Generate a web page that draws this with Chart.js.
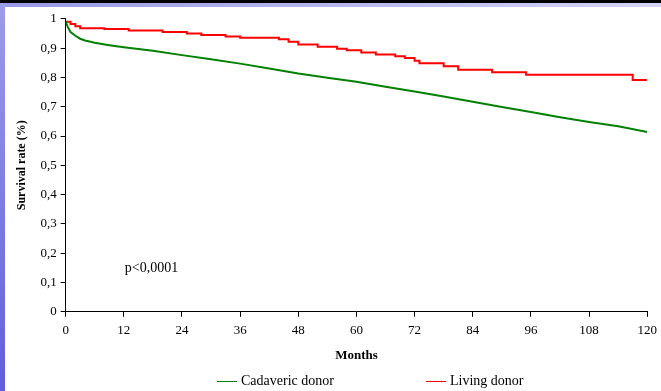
<!DOCTYPE html>
<html>
<head>
<meta charset="utf-8">
<script src="https://cdn.jsdelivr.net/npm/chart.js@4.4.1/dist/chart.umd.min.js"></script>
<style>
  html, body { margin: 0; padding: 0; background: #fff; }
  body { width: 661px; height: 391px; position: relative; overflow: hidden; }
  #topBlack { position: absolute; left: 0; top: 0; width: 661px; height: 3px; background: #000; }
  #topBand { position: absolute; left: 0; top: 3px; width: 661px; height: 4px;
    background: linear-gradient(to right, #9898e4, #d4d4f6); }
  #leftBar { position: absolute; left: 0; top: 3px; width: 5px; height: 388px;
    background: linear-gradient(to bottom, #9c9ce8, #5f5fe0); }
  #wrap { position: absolute; left: 5px; top: 7px; width: 658px; height: 384px; }
</style>
</head>
<body>
<div id="topBlack"></div>
<div id="topBand"></div>
<div id="leftBar"></div>
<div id="wrap"><canvas id="chart" width="658" height="384"></canvas></div>
<script>
// months / survival
const cadavericMonths = [0, 0.5, 1, 2, 3, 4, 6, 9, 12, 18, 24, 30, 36, 42, 48, 54, 60, 66, 72, 78, 84, 90, 96, 102, 108, 114, 120];
const cadavericSurv = [0.99, 0.97, 0.955, 0.942, 0.932, 0.926, 0.918, 0.91, 0.903, 0.891, 0.876, 0.862, 0.847, 0.83, 0.813, 0.799, 0.785, 0.768, 0.752, 0.735, 0.717, 0.699, 0.682, 0.664, 0.648, 0.633, 0.614];

const livingMonths = [0, 1, 2, 3, 8, 13, 20, 25, 28, 33, 36, 44, 46, 48, 52, 56, 58, 61, 64, 68, 70, 72, 73, 78, 81, 88, 95, 117, 120];
const livingSurv = [0.99, 0.982, 0.975, 0.968, 0.965, 0.96, 0.955, 0.95, 0.945, 0.94, 0.935, 0.93, 0.922, 0.912, 0.905, 0.898, 0.893, 0.885, 0.878, 0.872, 0.866, 0.857, 0.848, 0.838, 0.826, 0.818, 0.809, 0.791, 0.791];

const xTicks = [0, 12, 24, 36, 48, 60, 72, 84, 96, 108, 120];
const pValueText = "p<0,0001";

const serif = "'Liberation Serif', 'Times New Roman', serif";

function toPoints(xs, ys) {
  return xs.map((x, i) => ({ x: x, y: ys[i] }));
}

// legend + p value drawn by hand
const extras = {
  id: "extras",
  afterDraw(chart) {
    const ctx = chart.ctx;
    const xs = chart.scales.x;
    const ys = chart.scales.y;
    ctx.save();
    ctx.fillStyle = "#000";
    ctx.font = "14px " + serif;
    ctx.textBaseline = "middle";
    ctx.fillText(pValueText, xs.getPixelForValue(12.2), ys.getPixelForValue(0.147));

    const items = chart.data.datasets;
    const ly = 374;
    let lx = 212;
    items.forEach((ds, i) => {
      ctx.strokeStyle = ds.borderColor;
      ctx.lineWidth = 1;
      ctx.beginPath();
      ctx.moveTo(lx, ly + 0.5);
      ctx.lineTo(lx + 20, ly + 0.5);
      ctx.stroke();
      ctx.fillStyle = "#000";
      ctx.fillText(ds.label, lx + 24, ly);
      lx = i === 0 ? 421 : lx;
    });
    ctx.restore();
  }
};

new Chart(document.getElementById("chart"), {
  type: "line",
  data: {
    datasets: [
      {
        label: "Cadaveric donor",
        data: toPoints(cadavericMonths, cadavericSurv),
        borderColor: "#008000",
        borderWidth: 2,
        pointRadius: 0,
        tension: 0,
        fill: false
      },
      {
        label: "Living donor",
        data: toPoints(livingMonths, livingSurv),
        borderColor: "#ff0000",
        borderWidth: 2,
        pointRadius: 0,
        stepped: true,
        fill: false
      }
    ]
  },
  options: {
    responsive: false,
    animation: false,
    layout: { padding: { left: 10, right: 2, top: 6, bottom: 28 } },
    plugins: {
      legend: { display: false },
      tooltip: { enabled: false }
    },
    scales: {
      x: {
        type: "linear",
        min: 0,
        max: 120,
        afterBuildTicks: (axis) => { axis.ticks = xTicks.map((v) => ({ value: v })); },
        grid: { drawOnChartArea: false, color: "#000", tickLength: 5 },
        border: { color: "#000", width: 1 },
        ticks: { color: "#000", font: { family: serif, size: 13 }, maxRotation: 0, padding: 6 },
        title: { display: true, text: "Months", color: "#000", font: { family: serif, size: 13, weight: "bold" }, padding: { top: 3, bottom: 0 } }
      },
      y: {
        min: 0,
        max: 1,
        ticks: {
          stepSize: 0.1,
          color: "#000",
          font: { family: serif, size: 13 },
          padding: 4,
          callback: (v) => (v === 0 || v === 1 ? String(v) : v.toFixed(1).replace(".", ","))
        },
        grid: { drawOnChartArea: false, color: "#000", tickLength: 5 },
        border: { color: "#000", width: 1 },
        title: { display: true, text: "Survival rate (%)", color: "#000", font: { family: serif, size: 12, weight: "bold" }, padding: { top: 0, bottom: 7 } }
      }
    }
  },
  plugins: [extras]
});
</script>
</body>
</html>
